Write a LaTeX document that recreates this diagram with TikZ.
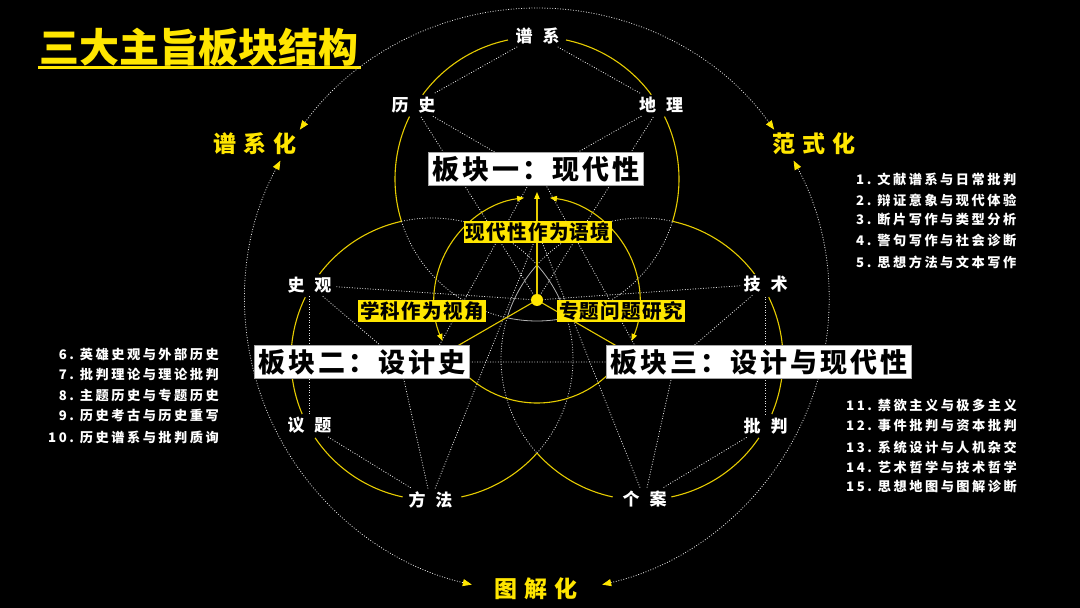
\documentclass[tikz,border=0pt]{standalone}
\usepackage{fontspec}
\setmainfont{Noto Sans CJK SC}
\newfontfamily\cjk{Noto Sans CJK SC}
\newfontfamily\cjkbox{Noto Sans CJK SC}[LetterSpace=11]
\newfontfamily\cjkmid{Noto Sans CJK SC}[LetterSpace=7]
\newfontfamily\cjkwide{Noto Sans CJK SC}[LetterSpace=30]
\newfontfamily\cjklist{Noto Sans CJK SC}[LetterSpace=19]
\usetikzlibrary{arrows.meta}
\definecolor{ylw}{HTML}{FFE600}
\definecolor{ylwline}{HTML}{E6CC00}
\newcommand{\pair}[2]{#1\hspace{10pt}#2}

\begin{document}
\begin{tikzpicture}[x=1pt, y=1pt,
    lbl/.style={text=white, font=\cjk\bfseries\fontsize{17}{17}\selectfont, inner sep=3pt},
    blockbox/.style={fill=white, draw=black!35, text=black,
                     font=\cjkbox\bfseries\fontsize{27}{27}\selectfont,
                     inner xsep=4pt, inner ysep=3.5pt},
    themebox/.style={fill=ylw, text=black,
                     font=\cjkmid\bfseries\fontsize{19.5}{19.5}\selectfont,
                     inner xsep=2pt, inner ysep=2pt},
    mode/.style={text=ylw, font=\cjkwide\bfseries\fontsize{23}{23}\selectfont, inner sep=0pt},
    item/.style={text=white, font=\cjklist\bfseries\fontsize{13.2}{13.2}\selectfont, inner sep=0pt},
    dots/.style={white!90!black, line width=0.8pt, dash pattern=on 0.9pt off 1.7pt},
    inner/.style={white!70!black, line width=0.8pt},
    yarc/.style={ylwline, line width=1.1pt},
    outarc/.style={dots, {Triangle[length=9pt, width=7pt, color=ylw]}-{Triangle[length=9pt, width=7pt, color=ylw]}},
    ringarc/.style={yarc, {Triangle[length=7pt, width=5.5pt, color=ylw]}-{Triangle[length=7pt, width=5.5pt, color=ylw]}},
  ]

  % Background
  \fill[black] (0,0) rectangle (1080,608);
  \useasboundingbox (0,0) rectangle (1080,608);

  \coordinate (O) at (537,308);
  \coordinate (c1) at (537,429);
  \coordinate (c2) at (432,249);
  \coordinate (c3) at (642,249);
  % where the dotted links meet behind the block boxes
  \coordinate (k1) at (536,432);
  \coordinate (k2) at (400,246);
  \coordinate (k3) at (675,246);
  \coordinate (m1) at (537,439);
  \coordinate (m2) at (430,246);
  \coordinate (m3) at (644,246);

  % Title
  \node[text=ylw, font=\cjk\bfseries\fontsize{40}{40}\selectfont, inner sep=0pt]
    (ttl) at (199,561) {三大主旨板块结构};
  \draw[ylw, line width=2.5pt] ([xshift=-1pt, yshift=-1pt]ttl.south west) -- ([xshift=2pt, yshift=-1pt]ttl.south east);

  % Outer ring with the three modes
  \draw[outarc] ([shift={(35.7:292)}]O) arc[start angle=35.7, end angle=144.3, radius=292];
  \draw[outarc] ([shift={(151.5:292)}]O) arc[start angle=151.5, end angle=257.1, radius=292];
  \draw[outarc] ([shift={(282.9:292)}]O) arc[start angle=282.9, end angle=388.5, radius=292];

  \node[mode] (mpx) at (255,464.5) {谱系化};
  \node[mode] (mfs) at (814,464.5) {范式化};
  \node[mode] (mtj) at (536,19) {图解化};

  % Topic labels
  \node[lbl] (sx) at (537.5,572.5) {\pair{谱}{系}};
  \node[lbl] (ls) at (413.5,503) {\pair{历}{史}};
  \node[lbl] (dl) at (661,503) {\pair{地}{理}};
  \node[lbl] (sg) at (309.5,323) {\pair{史}{观}};
  \node[lbl] (yt) at (309.5,182.5) {\pair{议}{题}};
  \node[lbl] (ff) at (430.5,108) {\pair{方}{法}};
  \node[lbl] (js) at (765.5,324) {\pair{技}{术}};
  \node[lbl] (pp) at (765.5,182) {\pair{批}{判}};
  \node[lbl] (ga) at (644.5,109) {\pair{个}{案}};

  % Dotted links
  \draw[dots] (sx) -- (ls);
  \draw[dots] (sx) -- (dl);
  \draw[dots] (ls) -- (k1);
  \draw[dots] (dl) -- (k1);
  \draw[dots] (O) -- (ls);
  \draw[dots] (O) -- (dl);

  \draw[dots] (yt) -- (sg);
  \draw[dots] (yt) -- (ff);
  \draw[dots] (sg) -- (k2);
  \draw[dots] (ff) -- (k2);

  \draw[dots] (pp) -- (js);
  \draw[dots] (pp) -- (ga);
  \draw[dots] (js) -- (k3);
  \draw[dots] (ga) -- (k3);

  \draw[dots] (O) -- (sg);
  \draw[dots] (O) -- (js);
  \draw[dots] (ff) -- (538,376);
  \draw[dots] (ga) -- (538,376);

  % Triangle between the blocks
  \draw[dots] (m1) -- (m2) -- (m3) -- cycle;

  % Block one circle
  \draw[yarc] ([shift={(101.8:142)}]c1) arc[start angle=101.8, end angle=143.6, radius=142];
  \draw[yarc] ([shift={(153.9:142)}]c1) arc[start angle=153.9, end angle=197.4, radius=142];
  \draw[yarc] ([shift={(36.4:142)}]c1) arc[start angle=36.4, end angle=78.2, radius=142];
  \draw[yarc] ([shift={(-17.4:142)}]c1) arc[start angle=-17.4, end angle=26.1, radius=142];
  \draw[dots] ([shift={(197.4:142)}]c1) arc[start angle=197.4, end angle=257.9, radius=142];
  \draw[dots] ([shift={(282.1:142)}]c1) arc[start angle=282.1, end angle=342.6, radius=142];
  \draw[inner] ([shift={(257.9:142)}]c1) arc[start angle=257.9, end angle=282.1, radius=142];

  % Block two circle
  \draw[yarc] ([shift={(102.5:141)}]c2) arc[start angle=102.5, end angle=143, radius=141];
  \draw[yarc] ([shift={(154:141)}]c2) arc[start angle=154, end angle=203, radius=141];
  \draw[yarc] ([shift={(214:141)}]c2) arc[start angle=214, end angle=258, radius=141];
  \draw[yarc] ([shift={(282:141)}]c2) arc[start angle=282, end angle=318.1, radius=141];
  \draw[dots] ([shift={(-41.9:141)}]c2) arc[start angle=-41.9, end angle=17, radius=141];
  \draw[dots] ([shift={(41.9:141)}]c2) arc[start angle=41.9, end angle=102.5, radius=141];
  \draw[inner] ([shift={(17:141)}]c2) arc[start angle=17, end angle=41.9, radius=141];

  % Block three circle
  \draw[yarc] ([shift={(37:141)}]c3) arc[start angle=37, end angle=77.5, radius=141];
  \draw[yarc] ([shift={(-23:141)}]c3) arc[start angle=-23, end angle=26, radius=141];
  \draw[yarc] ([shift={(-78:141)}]c3) arc[start angle=-78, end angle=-34, radius=141];
  \draw[yarc] ([shift={(221.9:141)}]c3) arc[start angle=221.9, end angle=258, radius=141];
  \draw[dots] ([shift={(163:141)}]c3) arc[start angle=163, end angle=221.9, radius=141];
  \draw[dots] ([shift={(77.5:141)}]c3) arc[start angle=77.5, end angle=138.1, radius=141];
  \draw[inner] ([shift={(138.1:141)}]c3) arc[start angle=138.1, end angle=163, radius=141];

  % Ring of the three themes
  \draw[ringarc] ([shift={(97.2:103)}]O) arc[start angle=97.2, end angle=203.4, radius=103];
  \draw[ringarc] ([shift={(82.8:103)}]O) arc[start angle=82.8, end angle=-23.4, radius=103];
  \draw[yarc] ([shift={(212:103)}]O) arc[start angle=212, end angle=328, radius=103];
  \draw[yarc, -{Triangle[length=7pt, width=5.5pt, color=ylw]}] (O) -- (537,416);
  \draw[yarc] (O) -- ++(210:115);
  \draw[yarc] (O) -- ++(330:115);

  % Blocks
  \node[blockbox] (b1) at (536,439) {板块一：现代性};
  \node[blockbox] (b2) at (362,246) {板块二：设计史};
  \node[blockbox] (b3) at (759,246) {板块三：设计与现代性};

  % Themes
  \node[themebox] (t1) at (538,376) {现代性作为语境};
  \node[themebox] (t2) at (422,297) {学科作为视角};
  \node[themebox] (t3) at (621,297) {专题问题研究};

  \fill[ylw] (O) circle[radius=6];

  % Course lists
  \node[item, anchor=west] (r1) at (856,429) {1.\hspace{6pt}文献谱系与日常批判};
  \node[item, anchor=west] (r2) at (856,408) {2.\hspace{6pt}辩证意象与现代体验};
  \node[item, anchor=west] (r3) at (856,388) {3.\hspace{6pt}断片写作与类型分析};
  \node[item, anchor=west] (r4) at (856,367) {4.\hspace{6pt}警句写作与社会诊断};
  \node[item, anchor=west] (r5) at (856,346) {5.\hspace{6pt}思想方法与文本写作};

  \node[item, anchor=east] (l6) at (219,254) {6.\hspace{6pt}英雄史观与外部历史};
  \node[item, anchor=east] (l7) at (219,233) {7.\hspace{6pt}批判理论与理论批判};
  \node[item, anchor=east] (l8) at (219,213) {8.\hspace{6pt}主题历史与专题历史};
  \node[item, anchor=east] (l9) at (219,192) {9.\hspace{6pt}历史考古与历史重写};
  \node[item, anchor=east] (l10) at (219,171) {10.\hspace{6pt}历史谱系与批判质询};

  \node[item, anchor=west] (r11) at (846,203) {11.\hspace{6pt}禁欲主义与极多主义};
  \node[item, anchor=west] (r12) at (846,182) {12.\hspace{6pt}事件批判与资本批判};
  \node[item, anchor=west] (r13) at (846,161) {13.\hspace{6pt}系统设计与人机杂交};
  \node[item, anchor=west] (r14) at (846,141) {14.\hspace{6pt}艺术哲学与技术哲学};
  \node[item, anchor=west] (r15) at (846,121) {15.\hspace{6pt}思想地图与图解诊断};

\end{tikzpicture}
\end{document}
